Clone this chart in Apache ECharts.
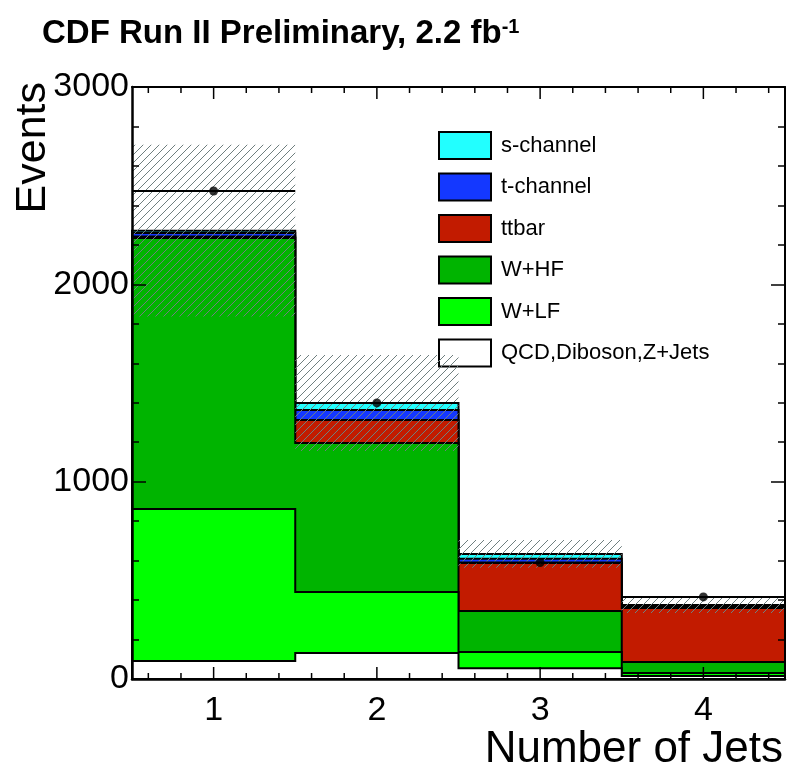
<!DOCTYPE html>
<html>
<head>
<meta charset="utf-8">
<script src="https://cdn.jsdelivr.net/npm/echarts@6/dist/echarts.min.js"></script>
<style>
html,body{margin:0;padding:0;background:#fff;}
#chart{width:788px;height:782px;}
</style>
</head>
<body>
<div id="chart"></div>
<script>
// ---- data ----
const bins = [1, 2, 3, 4];
const qcdDibosonZ = [91, 132, 55, 15];
const wlf = [771, 309, 82, 15];
const whf = [1373, 755, 208, 56];
const ttbar = [8, 117, 243, 274];
const tChannel = [17, 50, 22, 10];
const sChannel = [12, 36, 24, 5];
const observed = [2473, 1399, 590, 416];
const bkgUncertainty = [435, 243, 70, 41];
const yTickLabels = [0, 1000, 2000, 3000];
const xMajorTicks = [1, 2, 3, 4];
const xMinorTicks = [0.6, 0.8, 1.2, 1.4, 1.6, 1.8, 2.2, 2.4, 2.6, 2.8, 3.2, 3.4, 3.6, 3.8, 4.2, 4.4];

const FONT = 'Liberation Sans, Arial, Helvetica, sans-serif';
const xMin = bins[0] - 0.5, xMax = bins[bins.length - 1] + 0.5;
const yMin = yTickLabels[0], yMax = yTickLabels[yTickLabels.length - 1];

const layers = [
  {name: 'QCD,Diboson,Z+Jets', values: qcdDibosonZ, color: '#ffffff'},
  {name: 'W+LF', values: wlf, color: '#00ff00'},
  {name: 'W+HF', values: whf, color: '#00b400'},
  {name: 'ttbar', values: ttbar, color: '#c21b00'},
  {name: 't-channel', values: tChannel, color: '#1438ff'},
  {name: 's-channel', values: sChannel, color: '#22ffff'}
];

// cumulative stack tops per layer
const cumulative = [];
layers.forEach((l, i) => {
  cumulative.push(l.values.map((v, j) => v + (i > 0 ? cumulative[i - 1][j] : 0)));
});
const totals = cumulative[cumulative.length - 1];

// hatch pattern
const hatch = document.createElement('canvas');
hatch.width = 8; hatch.height = 8;
(function () {
  const c = hatch.getContext('2d');
  c.strokeStyle = '#6f7f7f';
  c.lineWidth = 1;
  c.beginPath();
  c.moveTo(0, 8); c.lineTo(8, 0);
  c.moveTo(-4, 4); c.lineTo(4, -4);
  c.moveTo(4, 12); c.lineTo(12, 4);
  c.stroke();
})();

const series = layers.map((l, i) => ({
  name: l.name,
  type: 'custom',
  z: 10 - i,
  silent: true,
  itemStyle: {color: l.color},
  data: bins.map((b, j) => [b, cumulative[i][j]]),
  renderItem: function (params, api) {
    if (params.dataIndex !== 0) return null;
    const n = bins.length;
    const pts = [api.coord([xMin, yMin])];
    for (let j = 0; j < n; j++) {
      const b = api.value(0, j), v = api.value(1, j);
      pts.push(api.coord([b - 0.5, v]));
      pts.push(api.coord([b + 0.5, v]));
    }
    pts.push(api.coord([xMax, yMin]));
    return {type: 'polygon', shape: {points: pts},
      style: {fill: l.color, stroke: '#000', lineWidth: 2, lineJoin: 'miter'}};
  }
}));

series.push({
  name: 'uncertainty',
  type: 'custom',
  z: 20,
  silent: true,
  data: bins.map((b, i) => [b, totals[i], bkgUncertainty[i]]),
  renderItem: function (params, api) {
    const b = api.value(0), t = api.value(1), u = api.value(2);
    const p1 = api.coord([b - 0.5, t + u]);
    const p2 = api.coord([b + 0.5, t - u]);
    return {type: 'rect', shape: {x: p1[0], y: p1[1], width: p2[0] - p1[0], height: p2[1] - p1[1]},
      style: {fill: {image: hatch, repeat: 'repeat'}, stroke: null}};
  }
});

series.push({
  name: 'dataBar',
  type: 'custom',
  z: 30,
  silent: true,
  data: bins.map((b, i) => [b, observed[i]]),
  renderItem: function (params, api) {
    const b = api.value(0), v = api.value(1);
    const p1 = api.coord([b - 0.5, v]);
    const p2 = api.coord([b + 0.5, v]);
    return {type: 'line', shape: {x1: p1[0], y1: p1[1], x2: p2[0], y2: p2[1]}, style: {stroke: '#000', lineWidth: 2}};
  }
});

series.push({
  name: 'data',
  type: 'scatter',
  z: 31,
  silent: true,
  symbol: 'circle',
  symbolSize: 9,
  itemStyle: {color: '#000'},
  data: bins.map((b, i) => [b, observed[i]])
});

series.push({
  name: 'ticks',
  type: 'custom',
  z: 40,
  silent: true,
  clip: false,
  data: xMajorTicks.map(v => [v, 1]).concat(xMinorTicks.map(v => [v, 0])),
  renderItem: function (params, api) {
    const x = api.value(0), major = api.value(1);
    const len = major ? 12 : 6;
    const b = api.coord([x, yMin]);
    const t = api.coord([x, yMax]);
    return {type: 'group', children: [
      {type: 'line', shape: {x1: b[0], y1: b[1], x2: b[0], y2: b[1] - len}, style: {stroke: '#000', lineWidth: 1.5}},
      {type: 'line', shape: {x1: t[0], y1: t[1], x2: t[0], y2: t[1] + len}, style: {stroke: '#000', lineWidth: 1.5}}
    ]};
  }
});

const legendOrder = layers.slice().reverse();

const chart = echarts.init(document.getElementById('chart'), null, {renderer: 'canvas'});
chart.setOption({
  animation: false,
  backgroundColor: '#fff',
  grid: {left: 132, right: 3, top: 87, bottom: 103, containLabel: false},
  legend: {
    orient: 'vertical',
    left: 438,
    top: 131,
    padding: 0,
    itemWidth: 52,
    itemHeight: 27,
    itemGap: 12.5,
    selectedMode: false,
    textStyle: {fontSize: 22, fontFamily: FONT, color: '#000', padding: [0, 0, 0, 5]},
    data: legendOrder.map(l => ({
      name: l.name,
      icon: 'rect',
      itemStyle: {color: l.color, borderColor: '#000', borderWidth: 2}
    }))
  },
  xAxis: [{
    type: 'value', position: 'bottom', min: xMin, max: xMax, interval: 0.5, z: 25,
    axisLine: {show: true, onZero: false, lineStyle: {color: '#000', width: 2.5}},
    axisTick: {show: false},
    splitLine: {show: false},
    axisLabel: {fontSize: 34, fontFamily: FONT, color: '#000', margin: 15,
      formatter: v => (Math.abs(v - Math.round(v)) < 1e-9 ? String(Math.round(v)) : '')}
  }, {
    type: 'value', position: 'top', min: xMin, max: xMax, interval: 0.5, z: 25,
    axisLine: {show: true, onZero: false, lineStyle: {color: '#000', width: 2}},
    axisTick: {show: false}, axisLabel: {show: false}, splitLine: {show: false}
  }],
  yAxis: [{
    type: 'value', position: 'left', min: yMin, max: yMax, interval: 1000, z: 25,
    axisLine: {show: true, onZero: false, lineStyle: {color: '#000', width: 2.5}},
    axisTick: {show: true, inside: true, length: 14, lineStyle: {color: '#000', width: 1.5}},
    minorTick: {show: true, splitNumber: 5, length: 7, lineStyle: {color: '#000', width: 1.5}},
    splitLine: {show: false},
    axisLabel: {fontSize: 34, fontFamily: FONT, color: '#000', margin: 3, formatter: v => String(v)}
  }, {
    type: 'value', position: 'right', min: yMin, max: yMax, interval: 1000, z: 25,
    axisLine: {show: true, onZero: false, lineStyle: {color: '#000', width: 2}},
    axisTick: {show: true, inside: true, length: 14, lineStyle: {color: '#000', width: 1.5}},
    minorTick: {show: true, splitNumber: 5, length: 7, lineStyle: {color: '#000', width: 1.5}},
    splitLine: {show: false},
    axisLabel: {show: false}
  }],
  graphic: [
    {type: 'text', left: 42, top: 17, z: 50,
      style: {text: '{a|CDF Run II Preliminary, 2.2 fb}{s|-1}', fill: '#000',
        rich: {a: {fontSize: 33, fontWeight: 'bold', fontFamily: FONT, fill: '#000'},
               s: {fontSize: 20, fontWeight: 'bold', fontFamily: FONT, fill: '#000', verticalAlign: 'top'}}}},
    {type: 'text', x: 12, y: 82, rotation: Math.PI / 2, z: 50,
      style: {text: 'Events', fontSize: 43, fontFamily: FONT, fill: '#000', align: 'right', verticalAlign: 'top'}},
    {type: 'text', right: 5, top: 728, z: 50,
      style: {text: 'Number of Jets', fontSize: 44, fontFamily: FONT, fill: '#000'}}
  ],
  series: series
});
</script>
</body>
</html>
